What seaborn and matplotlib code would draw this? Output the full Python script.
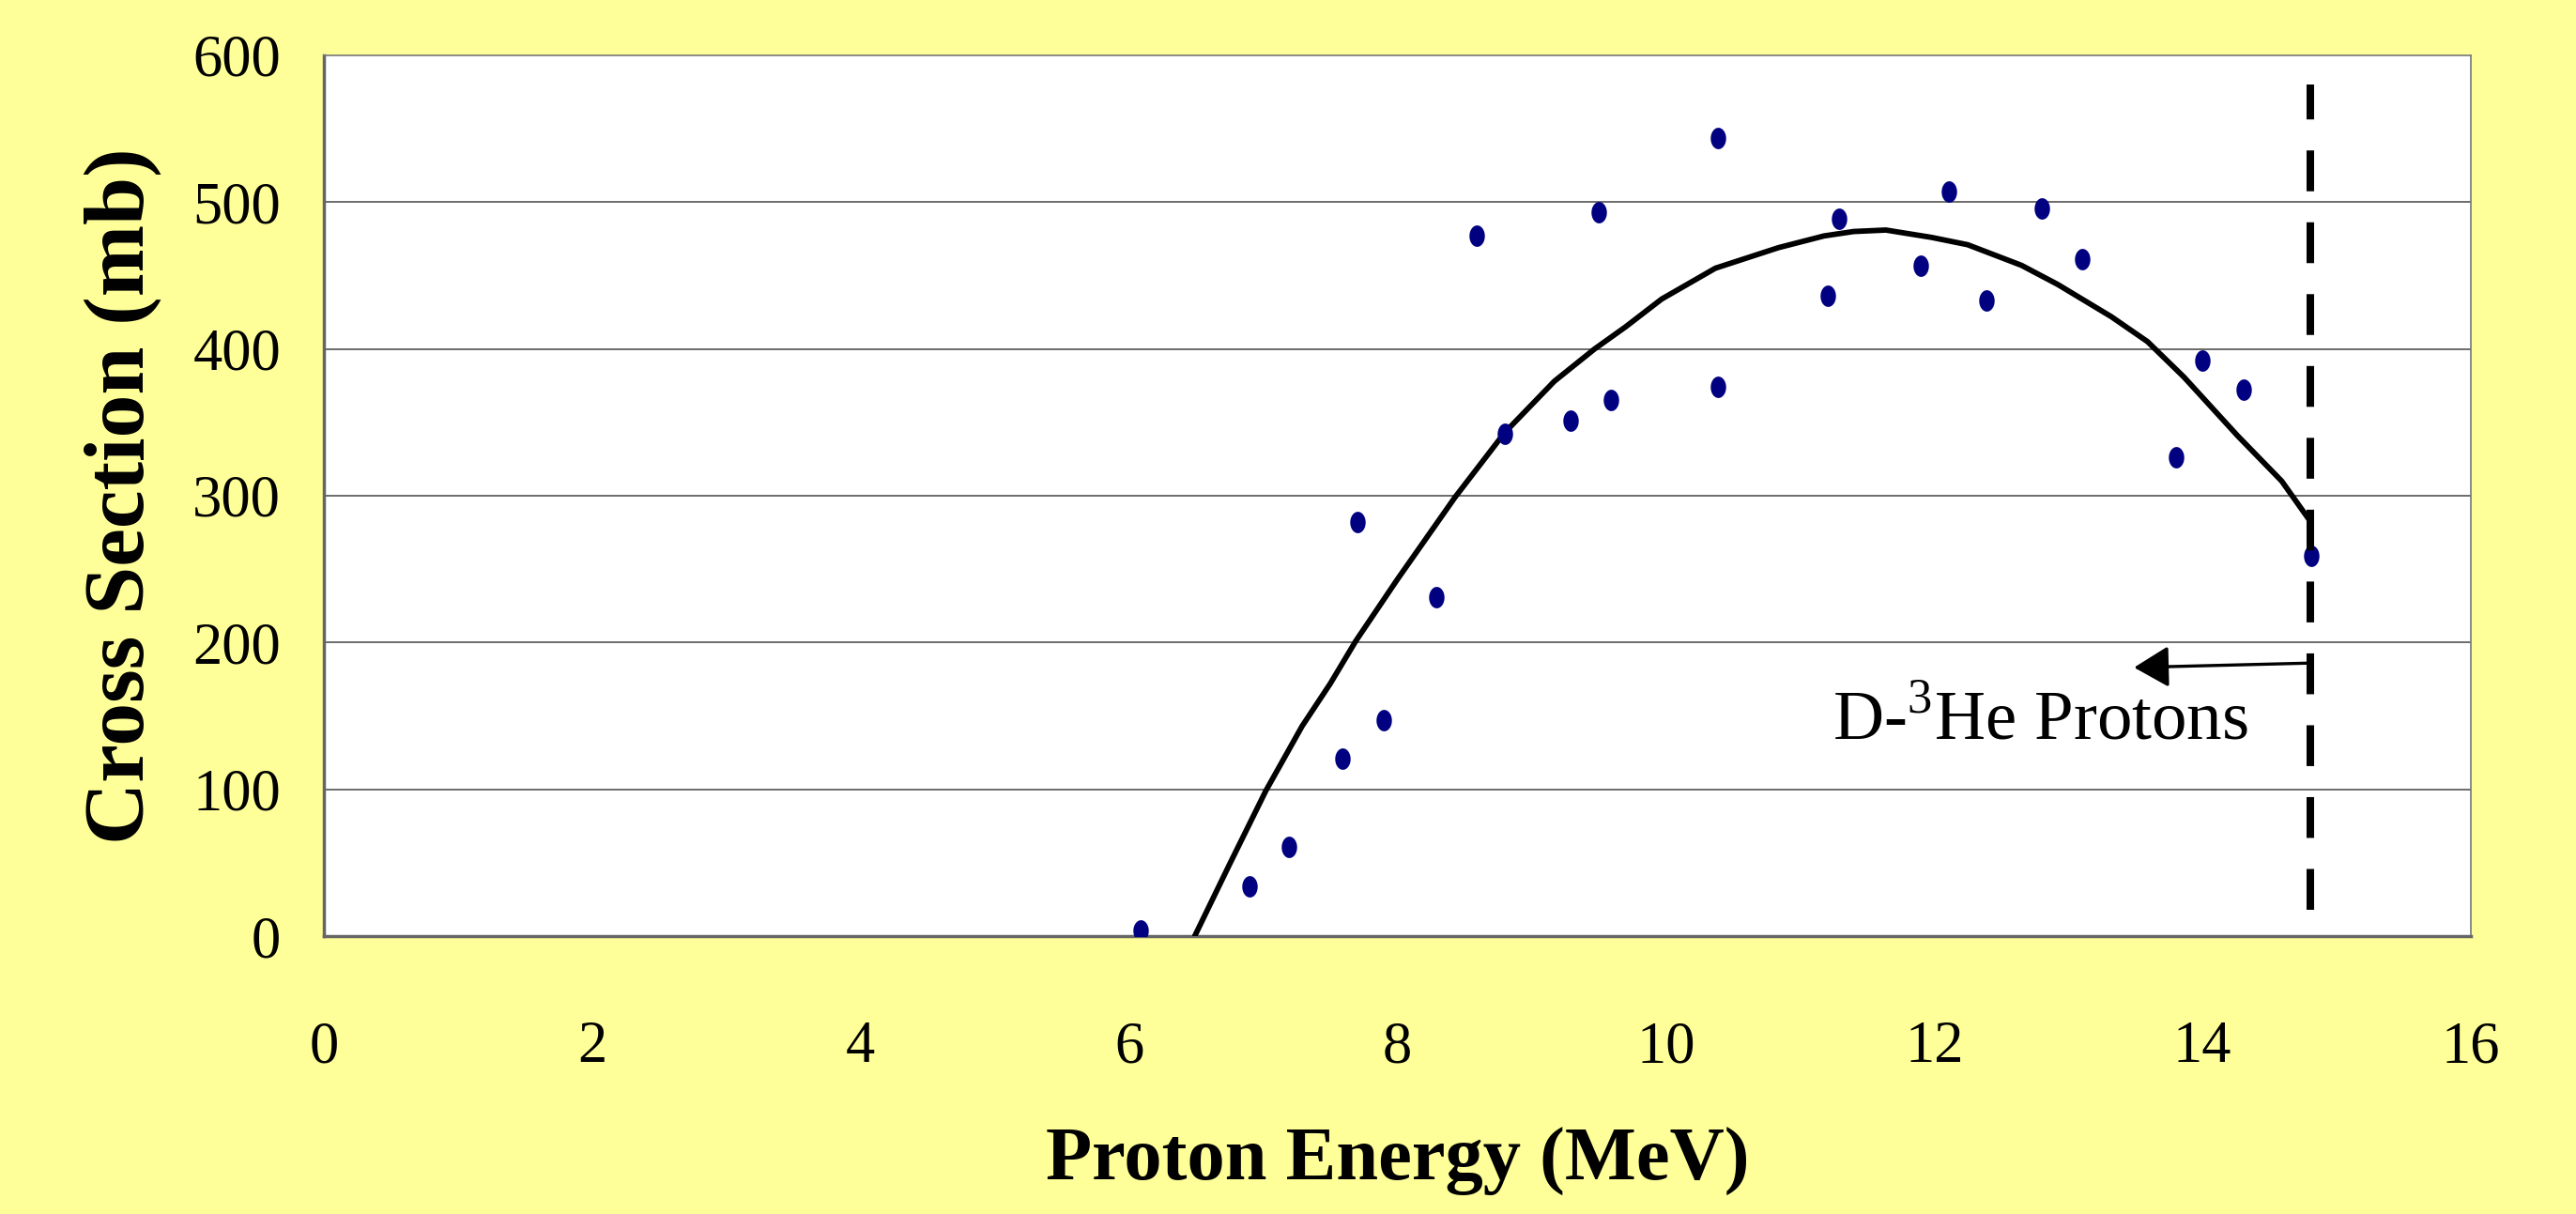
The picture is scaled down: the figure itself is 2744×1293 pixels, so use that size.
import numpy as np
import matplotlib
matplotlib.use("Agg")
import matplotlib.pyplot as plt
import seaborn as sns

# measured cross section points (MeV, mb)
energy_pts = [6.09, 6.90, 7.19, 7.59, 7.70, 7.90, 8.29, 8.59, 8.80, 9.29, 9.50, 9.59,
              10.39, 10.39, 11.21, 11.29, 11.90, 12.11, 12.39, 12.80, 13.10, 13.80,
              14.00, 14.31, 14.81]
xsec_pts = [4, 34, 61, 121, 282, 147, 231, 477, 342, 351, 493, 365,
            544, 374, 436, 489, 457, 507, 433, 496, 461, 326,
            392, 372, 259]

# fitted curve
fit_energy = [6.49, 6.75, 7.02, 7.29, 7.50, 7.69, 8.00, 8.43, 8.80, 9.17, 9.47, 9.70,
              9.97, 10.37, 10.84, 11.18, 11.40, 11.64, 11.98, 12.25, 12.65, 12.92,
              13.32, 13.59, 13.86, 14.26, 14.59, 14.80]
fit_xsec = [0, 49, 99, 143, 172, 201, 243, 299, 343, 378, 400, 415,
            434, 455, 469, 477, 480, 481, 476, 471, 457, 444,
            422, 405, 381, 341, 310, 283]

# D-3He proton energy marker
dhe3_energy = 14.8
dhe3_span = [18, 580]
arrow_tail = (14.8, 186)
arrow_tip = (13.49, 183)
label_pos = (11.24, 134)

x_ticks = list(range(0, 17, 2))
y_ticks = list(range(0, 601, 100))

sns.set_style("white")
plt.rcParams['font.family'] = ['Liberation Serif', 'DejaVu Serif']
plt.rcParams['mathtext.fontset'] = 'custom'
plt.rcParams['mathtext.rm'] = 'Liberation Serif'
plt.rcParams['text.color'] = 'black'
plt.rcParams['axes.labelcolor'] = 'black'

fig = plt.figure(figsize=(27.44, 12.93), dpi=100)
fig.set_facecolor('#FFFF99')
ax = fig.add_axes([0.1257, 0.2289, 0.8335, 0.7255])
ax.set_facecolor('white')

# grid lines
for v in y_ticks[1:-1]:
    ax.axhline(v, color='#444444', lw=1.1, zorder=0)

# elliptical dot marker
t = np.linspace(0, 2 * np.pi, 40)
ell = np.column_stack([0.72 * np.cos(t), np.sin(t)])

sns.lineplot(x=fit_energy, y=fit_xsec, ax=ax, color='black', lw=4.2, sort=False, zorder=3)
sns.scatterplot(x=energy_pts, y=xsec_pts, ax=ax, marker=ell, s=270, color='#000080',
                linewidth=0, zorder=4)

ax.plot([dhe3_energy, dhe3_energy], dhe3_span, color='black', lw=5.8,
        dashes=(5.4, 4.1), zorder=5)
ax.annotate('', xy=arrow_tip, xytext=arrow_tail,
            arrowprops=dict(arrowstyle='-|>,head_length=1.15,head_width=0.68',
                            mutation_scale=20, color='black', lw=2.4,
                            shrinkA=0, shrinkB=0), zorder=6)
ax.text(label_pos[0], label_pos[1], r'D-$^{\mathrm{3}}$He Protons', fontsize=54,
        va='baseline', ha='left', color='black')

ax.set_xlim(0, 16)
ax.set_ylim(0, 600)
ax.set_xticks(x_ticks)
ax.set_yticks(y_ticks)
ax.tick_params(axis='x', direction='out', length=16, width=1.2, color='#555555',
               labelsize=45, pad=49, labelcolor='black')
ax.tick_params(axis='y', direction='out', length=13, width=1.2, color='#555555',
               labelsize=45, pad=20, labelcolor='black')

for side in ['top', 'right']:
    ax.spines[side].set_color('#777777')
    ax.spines[side].set_linewidth(1.2)
for side in ['left', 'bottom']:
    ax.spines[side].set_color('#666666')
    ax.spines[side].set_linewidth(2.5)

ax.set_xlabel('Proton Energy (MeV)', fontsize=58, fontweight='bold', labelpad=40)
ax.set_ylabel('Cross Section (mb)', fontsize=66, fontweight='bold', labelpad=24)

fig.savefig('out.png', dpi=100, facecolor=fig.get_facecolor())
